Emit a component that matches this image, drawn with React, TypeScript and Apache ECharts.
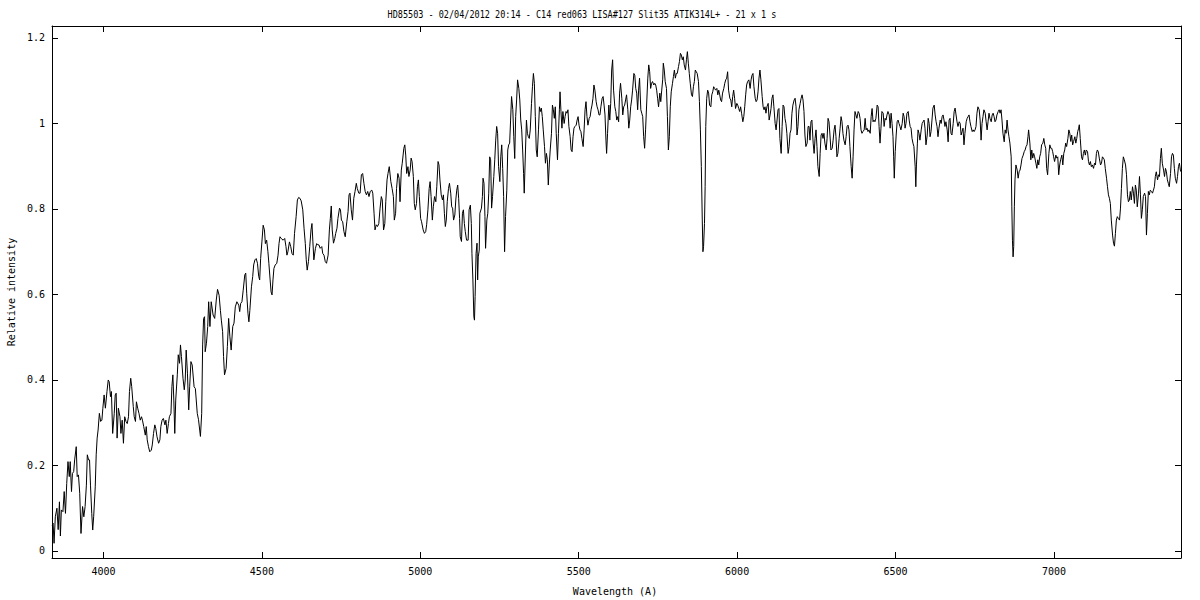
import React, { useEffect, useRef } from "react";
import * as echarts from "echarts";

const TITLE = "HD85503 - 02/04/2012 20:14 - C14 red063 LISA#127 Slit35 ATIK314L+ - 21 x 1 s";
const X_NAME = "Wavelength (A)";
const Y_NAME = "Relative intensity";
const X_TICKS = [4000, 4500, 5000, 5500, 6000, 6500, 7000];
const Y_TICKS = [0, 0.2, 0.4, 0.6, 0.8, 1, 1.2];
const Y_TICK_LABELS = ["0", "0.2", "0.4", "0.6", "0.8", "1", "1.2"];

// [wavelength (A), relative intensity], by region
const SEG_3840_4265 = [[3838,0.06],[3841,0.065],[3844,0.018],[3848,0.08],[3853,0.10],[3857,0.05],[3861,0.115],[3864,0.035],[3867,0.096],[3872,0.092],[3876,0.139],[3880,0.088],[3884,0.158],[3888,0.209],[3892,0.174],[3895,0.209],[3899,0.139],[3902,0.181],[3906,0.186],[3909,0.213],[3914,0.244],[3917,0.174],[3921,0.178],[3925,0.135],[3929,0.041],[3934,0.104],[3938,0.08],[3942,0.104],[3946,0.154],[3949,0.225],[3953,0.213],[3956,0.213],[3959,0.154],[3963,0.088],[3966,0.049],[3969,0.08],[3974,0.15],[3977,0.225],[3980,0.264],[3983,0.283],[3987,0.322],[3991,0.303],[3995,0.306],[3998,0.334],[4002,0.365],[4006,0.334],[4011,0.373],[4015,0.40],[4018,0.396],[4022,0.361],[4025,0.373],[4029,0.275],[4034,0.322],[4037,0.365],[4040,0.369],[4043,0.264],[4047,0.334],[4052,0.314],[4055,0.275],[4059,0.306],[4063,0.252],[4067,0.314],[4071,0.303],[4075,0.298],[4079,0.314],[4082,0.373],[4086,0.404],[4089,0.385],[4094,0.338],[4097,0.314],[4101,0.303],[4104,0.349],[4108,0.334],[4112,0.322],[4116,0.306],[4120,0.314],[4123,0.306],[4127,0.291],[4132,0.271],[4135,0.291],[4138,0.26],[4142,0.244],[4146,0.232],[4151,0.236],[4154,0.248],[4158,0.275],[4162,0.295],[4165,0.287],[4169,0.267],[4174,0.252],[4178,0.26],[4181,0.291],[4185,0.306],[4189,0.31],[4194,0.295],[4197,0.306],[4201,0.275],[4205,0.298],[4208,0.314],[4213,0.322],[4216,0.385],[4219,0.412],[4222,0.353],[4225,0.275],[4228,0.353],[4233,0.412],[4236,0.459],[4240,0.439],[4243,0.482],[4246,0.455],[4251,0.404],[4255,0.377],[4258,0.40],[4261,0.47],[4265,0.416]];

const SEG_4265_4705 = [[4269,0.33],[4272,0.384],[4276,0.443],[4280,0.435],[4286,0.384],[4290,0.38],[4296,0.322],[4300,0.307],[4306,0.268],[4310,0.322],[4313,0.482],[4316,0.544],[4319,0.548],[4321,0.466],[4325,0.486],[4329,0.525],[4332,0.583],[4336,0.525],[4340,0.583],[4346,0.552],[4351,0.544],[4356,0.587],[4360,0.612],[4365,0.598],[4369,0.563],[4372,0.54],[4376,0.513],[4379,0.455],[4382,0.412],[4387,0.427],[4391,0.478],[4395,0.544],[4399,0.501],[4403,0.47],[4408,0.525],[4412,0.533],[4416,0.571],[4421,0.583],[4427,0.575],[4430,0.56],[4433,0.579],[4437,0.583],[4441,0.61],[4446,0.646],[4449,0.65],[4452,0.603],[4456,0.556],[4459,0.536],[4462,0.563],[4467,0.618],[4471,0.642],[4474,0.669],[4478,0.681],[4482,0.684],[4486,0.673],[4490,0.642],[4493,0.634],[4496,0.684],[4500,0.723],[4504,0.762],[4508,0.751],[4511,0.719],[4515,0.727],[4519,0.70],[4522,0.673],[4526,0.634],[4529,0.606],[4532,0.599],[4535,0.634],[4538,0.661],[4542,0.669],[4547,0.673],[4551,0.692],[4554,0.719],[4557,0.735],[4561,0.731],[4567,0.727],[4572,0.731],[4576,0.712],[4579,0.692],[4582,0.70],[4587,0.723],[4591,0.712],[4595,0.696],[4599,0.692],[4603,0.743],[4608,0.782],[4612,0.821],[4616,0.827],[4620,0.825],[4624,0.819],[4629,0.798],[4633,0.755],[4637,0.719],[4640,0.681],[4643,0.657],[4647,0.677],[4651,0.712],[4655,0.751],[4658,0.766],[4661,0.723],[4664,0.681],[4669,0.708],[4673,0.719],[4677,0.716],[4680,0.716],[4684,0.708],[4689,0.712],[4692,0.696],[4696,0.692],[4700,0.677],[4704,0.673]];

const SEG_4705_5150 = [[4709,0.692],[4713,0.751],[4716,0.778],[4719,0.807],[4722,0.751],[4726,0.72],[4730,0.731],[4733,0.743],[4737,0.755],[4740,0.778],[4745,0.802],[4748,0.798],[4751,0.774],[4755,0.77],[4759,0.747],[4763,0.735],[4768,0.77],[4772,0.794],[4775,0.833],[4778,0.837],[4782,0.798],[4786,0.774],[4790,0.825],[4794,0.841],[4798,0.86],[4801,0.848],[4806,0.837],[4810,0.837],[4814,0.88],[4818,0.883],[4822,0.86],[4826,0.841],[4830,0.833],[4834,0.841],[4838,0.829],[4842,0.841],[4847,0.844],[4850,0.837],[4854,0.79],[4857,0.751],[4861,0.763],[4865,0.759],[4869,0.766],[4873,0.802],[4877,0.829],[4880,0.821],[4884,0.751],[4888,0.766],[4891,0.817],[4895,0.868],[4898,0.883],[4902,0.899],[4907,0.864],[4911,0.848],[4915,0.829],[4918,0.774],[4922,0.79],[4925,0.848],[4929,0.883],[4933,0.872],[4936,0.817],[4940,0.891],[4943,0.907],[4948,0.942],[4951,0.95],[4954,0.926],[4957,0.883],[4961,0.899],[4964,0.876],[4968,0.891],[4971,0.919],[4974,0.911],[4978,0.876],[4981,0.813],[4984,0.798],[4988,0.813],[4991,0.852],[4994,0.868],[4997,0.829],[5001,0.778],[5004,0.77],[5009,0.751],[5013,0.743],[5017,0.747],[5020,0.763],[5024,0.798],[5028,0.848],[5031,0.864],[5034,0.829],[5038,0.774],[5041,0.805],[5045,0.829],[5049,0.817],[5052,0.852],[5056,0.911],[5059,0.903],[5062,0.868],[5066,0.833],[5070,0.821],[5073,0.833],[5076,0.79],[5079,0.759],[5082,0.774],[5085,0.817],[5089,0.848],[5092,0.86],[5096,0.837],[5099,0.805],[5102,0.802],[5105,0.774],[5109,0.786],[5112,0.821],[5115,0.844],[5118,0.856],[5121,0.825],[5124,0.778],[5126,0.735],[5130,0.724],[5133,0.79],[5136,0.798],[5139,0.766],[5142,0.747],[5146,0.727]];

const SEG_5150_5595 = [[5151,0.727],[5154,0.798],[5158,0.809],[5161,0.766],[5163,0.696],[5166,0.634],[5169,0.548],[5171,0.54],[5173,0.595],[5176,0.696],[5179,0.72],[5181,0.634],[5183,0.688],[5186,0.704],[5188,0.79],[5193,0.802],[5196,0.829],[5198,0.872],[5201,0.86],[5204,0.782],[5206,0.708],[5210,0.774],[5213,0.79],[5216,0.837],[5219,0.922],[5222,0.915],[5225,0.802],[5228,0.829],[5232,0.876],[5235,0.915],[5238,0.961],[5241,0.993],[5244,0.977],[5247,0.899],[5251,0.864],[5254,0.922],[5257,0.95],[5260,0.895],[5263,0.829],[5266,0.70],[5269,0.782],[5273,0.844],[5276,0.938],[5279,0.95],[5282,0.954],[5285,1.008],[5288,1.063],[5292,1.032],[5295,0.969],[5298,0.918],[5301,1.016],[5304,1.055],[5307,1.102],[5311,1.082],[5314,1.055],[5317,1.008],[5320,0.985],[5323,0.938],[5326,0.883],[5328,0.837],[5332,0.938],[5335,1.008],[5338,0.977],[5341,0.969],[5344,0.965],[5347,0.985],[5351,1.047],[5354,1.086],[5357,1.117],[5360,1.094],[5363,1.016],[5366,0.938],[5369,0.922],[5373,0.985],[5376,1.039],[5379,1.028],[5382,1.036],[5385,1.016],[5388,0.985],[5392,0.946],[5395,0.907],[5398,0.93],[5401,0.915],[5404,0.856],[5407,0.903],[5410,0.938],[5414,0.977],[5417,1.043],[5420,1.032],[5423,1.012],[5426,1.039],[5429,0.977],[5433,0.915],[5436,0.977],[5439,1.032],[5441,1.074],[5444,1.028],[5447,0.989],[5450,1.028],[5454,1.0],[5457,1.016],[5460,1.028],[5463,1.024],[5466,1.032],[5469,0.993],[5473,0.969],[5476,0.938],[5479,0.934],[5482,0.969],[5485,0.989],[5488,0.993],[5492,0.996],[5495,1.008],[5498,1.016],[5501,0.996],[5504,0.985],[5507,0.981],[5510,0.965],[5514,0.946],[5517,0.985],[5520,1.032],[5523,1.051],[5526,1.016],[5529,0.996],[5533,1.012],[5536,1.016],[5539,1.032],[5542,1.043],[5545,1.059],[5548,1.09],[5551,1.078],[5555,1.051],[5558,1.039],[5561,1.032],[5564,1.02],[5567,1.02],[5570,1.039],[5574,1.059],[5577,1.063],[5580,1.043],[5583,1.02],[5586,0.961],[5588,0.93],[5591,0.977]];

const SEG_5595_6040 = [[5595,1.043],[5598,1.008],[5601,1.047],[5604,1.125],[5607,1.149],[5610,1.078],[5614,1.039],[5617,1.028],[5620,1.008],[5623,1.016],[5626,1.004],[5629,1.071],[5632,1.094],[5636,1.059],[5639,1.02],[5642,1.039],[5645,1.043],[5648,1.055],[5651,1.067],[5655,1.032],[5658,0.989],[5661,1.008],[5664,1.039],[5667,1.055],[5670,1.078],[5674,1.117],[5677,1.113],[5680,1.082],[5683,1.071],[5686,1.032],[5689,1.078],[5692,1.106],[5696,1.032],[5699,1.024],[5702,1.016],[5705,0.969],[5708,0.942],[5711,0.985],[5715,1.055],[5718,1.106],[5721,1.137],[5724,1.121],[5727,1.082],[5730,1.094],[5733,1.098],[5737,1.09],[5740,1.094],[5743,1.09],[5746,1.078],[5749,1.059],[5752,1.039],[5756,1.071],[5759,1.051],[5762,1.078],[5765,1.102],[5767,1.141],[5770,1.125],[5773,1.098],[5777,1.082],[5780,1.016],[5783,0.938],[5786,0.969],[5789,1.039],[5792,1.074],[5796,1.094],[5799,1.11],[5802,1.125],[5805,1.106],[5808,1.117],[5811,1.117],[5815,1.133],[5818,1.145],[5821,1.164],[5824,1.16],[5827,1.149],[5830,1.156],[5833,1.137],[5837,1.125],[5840,1.149],[5843,1.168],[5846,1.141],[5849,1.117],[5852,1.094],[5856,1.067],[5859,1.063],[5862,1.086],[5865,1.098],[5868,1.125],[5871,1.121],[5874,1.117],[5878,1.098],[5881,1.051],[5884,0.985],[5887,0.899],[5890,0.774],[5892,0.70],[5894,0.712],[5897,0.766],[5899,0.852],[5901,0.993],[5904,1.059],[5907,1.078],[5910,1.071],[5913,1.043],[5917,1.039],[5920,1.067],[5923,1.074],[5926,1.086],[5929,1.082],[5932,1.078],[5936,1.082],[5939,1.067],[5942,1.078],[5945,1.067],[5948,1.055],[5951,1.051],[5954,1.071],[5958,1.082],[5961,1.094],[5964,1.102],[5967,1.106],[5970,1.121],[5973,1.078],[5977,1.059],[5980,1.055],[5983,1.039],[5986,1.063],[5989,1.078],[5992,1.059],[5995,1.035],[5999,1.047],[6002,1.043],[6005,1.035],[6008,1.028],[6011,1.039],[6014,1.024],[6018,1.004],[6021,1.016],[6024,1.039],[6027,1.067],[6030,1.09],[6033,1.098],[6037,1.102]];

const SEG_6040_6475 = [[6041,1.082],[6044,1.102],[6047,1.113],[6050,1.117],[6053,1.086],[6057,1.059],[6060,1.051],[6063,1.055],[6066,1.074],[6069,1.106],[6072,1.125],[6075,1.102],[6079,1.063],[6082,1.039],[6085,1.032],[6088,1.039],[6091,1.024],[6094,1.039],[6098,1.047],[6101,1.008],[6104,1.02],[6107,1.035],[6110,1.059],[6113,1.067],[6116,1.039],[6120,1.0],[6123,0.985],[6126,1.008],[6129,1.032],[6132,1.035],[6135,0.965],[6139,0.93],[6142,0.993],[6145,1.043],[6148,1.039],[6151,1.012],[6154,1.0],[6157,0.977],[6161,0.93],[6164,0.946],[6167,0.977],[6170,0.985],[6173,1.024],[6176,1.043],[6180,1.055],[6183,1.059],[6186,1.039],[6189,0.973],[6192,0.993],[6195,1.032],[6199,1.047],[6202,1.059],[6205,1.067],[6208,1.055],[6211,1.028],[6214,0.973],[6217,0.946],[6221,0.954],[6224,0.993],[6227,0.993],[6230,0.961],[6233,1.004],[6236,1.008],[6240,0.954],[6243,0.93],[6246,0.965],[6249,0.985],[6252,0.946],[6255,0.899],[6259,0.876],[6262,0.93],[6265,0.973],[6268,0.977],[6271,0.965],[6274,0.977],[6277,0.954],[6281,0.938],[6284,0.965],[6287,1.012],[6290,1.004],[6293,0.973],[6296,0.938],[6300,0.942],[6303,0.961],[6306,0.985],[6309,0.996],[6312,0.969],[6315,0.922],[6318,0.93],[6322,0.965],[6325,0.989],[6328,1.016],[6331,1.004],[6334,0.977],[6337,0.961],[6341,0.95],[6344,0.969],[6347,0.993],[6350,0.996],[6353,0.985],[6356,0.946],[6360,0.899],[6363,0.872],[6366,0.922],[6369,0.985],[6372,1.028],[6375,1.02],[6378,1.012],[6382,1.028],[6385,1.024],[6388,1.012],[6391,0.985],[6394,0.977],[6397,0.981],[6401,0.985],[6404,1.012],[6407,0.985],[6410,0.989],[6413,0.981],[6416,0.985],[6420,0.977],[6423,1.016],[6426,1.035],[6429,1.004],[6432,1.008],[6435,1.004],[6438,1.012],[6442,1.043],[6445,1.039],[6448,0.993],[6451,0.954],[6454,0.989],[6457,1.028],[6461,1.024],[6464,0.993],[6467,1.012],[6470,1.008],[6473,1.02]];

const SEG_6475_6915 = [[6476,1.028],[6480,1.02],[6483,0.989],[6486,1.024],[6489,1.0],[6492,0.969],[6494,0.922],[6496,0.872],[6499,0.934],[6502,0.973],[6505,1.004],[6508,1.008],[6511,1.0],[6514,0.993],[6517,0.985],[6521,1.0],[6524,1.024],[6527,1.016],[6530,0.989],[6533,1.0],[6536,1.024],[6540,1.028],[6543,1.008],[6546,0.993],[6549,0.989],[6552,0.965],[6555,0.954],[6558,0.946],[6562,0.899],[6564,0.852],[6566,0.903],[6569,0.954],[6571,0.985],[6574,0.977],[6577,0.961],[6581,0.985],[6584,1.0],[6587,1.004],[6590,1.008],[6593,0.989],[6596,0.95],[6600,0.973],[6603,1.012],[6606,1.0],[6609,0.969],[6612,0.981],[6615,1.008],[6618,1.036],[6622,1.043],[6625,1.02],[6628,1.004],[6631,0.993],[6634,0.969],[6637,0.989],[6641,1.008],[6644,1.0],[6647,1.016],[6650,1.02],[6653,1.008],[6656,0.993],[6659,1.004],[6663,0.985],[6666,0.957],[6669,1.008],[6672,1.012],[6675,0.977],[6678,0.973],[6682,1.0],[6685,1.028],[6688,1.036],[6691,1.02],[6694,1.004],[6697,0.993],[6701,1.004],[6704,1.0],[6707,0.973],[6710,0.981],[6713,0.989],[6716,0.95],[6719,0.977],[6723,1.004],[6726,1.012],[6729,1.016],[6732,1.02],[6735,1.004],[6738,0.993],[6742,0.981],[6745,0.985],[6748,0.981],[6751,0.985],[6754,0.993],[6757,1.024],[6760,1.039],[6764,1.032],[6767,1.008],[6770,0.961],[6773,1.0],[6776,1.016],[6779,1.032],[6783,1.024],[6786,1.004],[6789,0.985],[6792,1.004],[6795,1.024],[6798,1.012],[6802,1.004],[6805,1.02],[6808,1.024],[6811,1.016],[6814,1.004],[6817,1.008],[6820,1.02],[6824,1.028],[6827,1.032],[6830,1.024],[6833,1.032],[6836,1.008],[6839,0.977],[6843,0.957],[6846,0.985],[6849,0.977],[6852,1.008],[6855,0.985],[6858,0.969],[6861,0.954],[6865,0.922],[6867,0.805],[6869,0.727],[6871,0.688],[6873,0.712],[6875,0.805],[6877,0.868],[6880,0.903],[6884,0.891],[6887,0.872],[6890,0.887],[6893,0.891],[6896,0.903],[6899,0.918],[6903,0.926],[6906,0.934],[6909,0.938],[6912,0.946],[6915,0.95]];

const SEG_6915_7401 = [[6918,0.969],[6920,0.985],[6924,0.954],[6927,0.915],[6930,0.938],[6933,0.919],[6936,0.93],[6939,0.922],[6943,0.907],[6946,0.895],[6949,0.915],[6952,0.903],[6955,0.922],[6958,0.93],[6961,0.95],[6965,0.954],[6968,0.965],[6971,0.95],[6974,0.942],[6977,0.895],[6980,0.88],[6984,0.93],[6987,0.95],[6990,0.942],[6993,0.942],[6996,0.934],[6999,0.922],[7002,0.911],[7006,0.926],[7009,0.919],[7012,0.922],[7015,0.88],[7018,0.903],[7021,0.915],[7025,0.926],[7028,0.903],[7031,0.93],[7034,0.938],[7037,0.954],[7040,0.946],[7044,0.965],[7047,0.985],[7050,0.977],[7053,0.958],[7056,0.973],[7059,0.95],[7062,0.958],[7066,0.969],[7069,0.954],[7072,0.965],[7075,0.981],[7078,0.989],[7080,0.997],[7083,0.965],[7087,0.922],[7090,0.915],[7093,0.93],[7096,0.938],[7099,0.926],[7102,0.938],[7106,0.934],[7109,0.911],[7112,0.903],[7115,0.911],[7118,0.899],[7121,0.903],[7125,0.895],[7128,0.907],[7131,0.903],[7134,0.93],[7137,0.938],[7140,0.934],[7143,0.919],[7147,0.903],[7150,0.907],[7153,0.922],[7156,0.919],[7159,0.915],[7162,0.895],[7166,0.872],[7169,0.852],[7172,0.833],[7175,0.825],[7178,0.813],[7181,0.774],[7185,0.739],[7188,0.72],[7191,0.713],[7194,0.743],[7197,0.774],[7200,0.782],[7203,0.778],[7207,0.774],[7210,0.802],[7213,0.848],[7216,0.895],[7219,0.922],[7222,0.915],[7226,0.903],[7229,0.88],[7232,0.833],[7235,0.817],[7238,0.821],[7241,0.841],[7244,0.821],[7248,0.852],[7251,0.837],[7254,0.813],[7257,0.856],[7260,0.844],[7263,0.805],[7267,0.837],[7270,0.876],[7273,0.833],[7276,0.778],[7279,0.798],[7282,0.829],[7286,0.837],[7289,0.829],[7292,0.739],[7295,0.79],[7298,0.841],[7301,0.833],[7304,0.844],[7308,0.841],[7311,0.837],[7314,0.844],[7317,0.852],[7320,0.876],[7323,0.887],[7327,0.868],[7330,0.88],[7333,0.876],[7336,0.918],[7339,0.942],[7342,0.907],[7346,0.891],[7349,0.876],[7352,0.895],[7355,0.887],[7358,0.868],[7361,0.86],[7364,0.852],[7368,0.883],[7371,0.922],[7374,0.93],[7377,0.926],[7380,0.895],[7383,0.872],[7387,0.86],[7390,0.876],[7393,0.899],[7396,0.907],[7399,0.891],[7401,0.887]];

const X_MIN = 3837.5;
const X_MAX = 7401;
const Y_MIN = -0.0164;
const Y_MAX = 1.228;

const MONO = '"DejaVu Sans Mono", monospace';

export default function App() {
  const ref = useRef<HTMLDivElement>(null);

  useEffect(() => {
    if (!ref.current) return;
    const chart = echarts.init(ref.current, null, { renderer: "svg" });
    const data = [
      ...SEG_3840_4265,
      ...SEG_4265_4705,
      ...SEG_4705_5150,
      ...SEG_5150_5595,
      ...SEG_5595_6040,
      ...SEG_6040_6475,
      ...SEG_6475_6915,
      ...SEG_6915_7401,
    ];
    const axisLine = { show: true, onZero: false, lineStyle: { color: "#000", width: 1 } };
    const xTick = { show: true, inside: true, length: 6, customValues: X_TICKS, lineStyle: { color: "#000", width: 1 } };
    const yTick = { show: true, inside: true, length: 6, customValues: Y_TICKS, lineStyle: { color: "#000", width: 1 } };
    chart.setOption({
      animation: false,
      backgroundColor: "#fff",
      grid: { left: 52, top: 26, width: 1129, height: 532, containLabel: false },
      xAxis: [
        {
          type: "value",
          position: "bottom",
          min: X_MIN,
          max: X_MAX,
          axisLine,
          axisTick: xTick,
          splitLine: { show: false },
          axisLabel: {
            customValues: X_TICKS,
            color: "#000",
            fontFamily: MONO,
            fontSize: 10,
            margin: 8,
            formatter: (v: number) => String(v),
          },
        },
        {
          type: "value",
          position: "top",
          min: X_MIN,
          max: X_MAX,
          axisLine,
          axisTick: xTick,
          splitLine: { show: false },
          axisLabel: { show: false },
        },
      ],
      yAxis: [
        {
          type: "value",
          position: "left",
          min: Y_MIN,
          max: Y_MAX,
          axisLine,
          axisTick: yTick,
          splitLine: { show: false },
          axisLabel: {
            customValues: Y_TICKS,
            color: "#000",
            fontFamily: MONO,
            fontSize: 10,
            margin: 7,
            formatter: (v: number) => {
              const i = Y_TICKS.findIndex((t) => Math.abs(t - v) < 1e-9);
              return i >= 0 ? Y_TICK_LABELS[i] : String(v);
            },
          },
        },
        {
          type: "value",
          position: "right",
          min: Y_MIN,
          max: Y_MAX,
          axisLine,
          axisTick: yTick,
          splitLine: { show: false },
          axisLabel: { show: false },
        },
      ],
      graphic: [
        {
          type: "text",
          x: 582,
          y: 14,
          scaleX: 0.81,
          style: {
            text: TITLE,
            fill: "#000",
            font: `10.5px ${MONO}`,
            textAlign: "center",
            textVerticalAlign: "middle",
          },
        },
        {
          type: "text",
          x: 615,
          y: 591,
          style: {
            text: X_NAME,
            fill: "#000",
            font: `10px ${MONO}`,
            textAlign: "center",
            textVerticalAlign: "middle",
          },
        },
        {
          type: "text",
          x: 11,
          y: 292,
          rotation: Math.PI / 2,
          style: {
            text: Y_NAME,
            fill: "#000",
            font: `10px ${MONO}`,
            textAlign: "center",
            textVerticalAlign: "middle",
          },
        },
      ],
      series: [
        {
          type: "line",
          xAxisIndex: 0,
          yAxisIndex: 0,
          data,
          showSymbol: false,
          symbol: "none",
          smooth: false,
          clip: true,
          lineStyle: { color: "#000", width: 1 },
        },
      ],
    });
    return () => chart.dispose();
  }, []);

  return (
    <div
      ref={ref}
      style={{ position: "fixed", left: 0, top: 0, width: 1200, height: 600, background: "#fff" }}
    />
  );
}
